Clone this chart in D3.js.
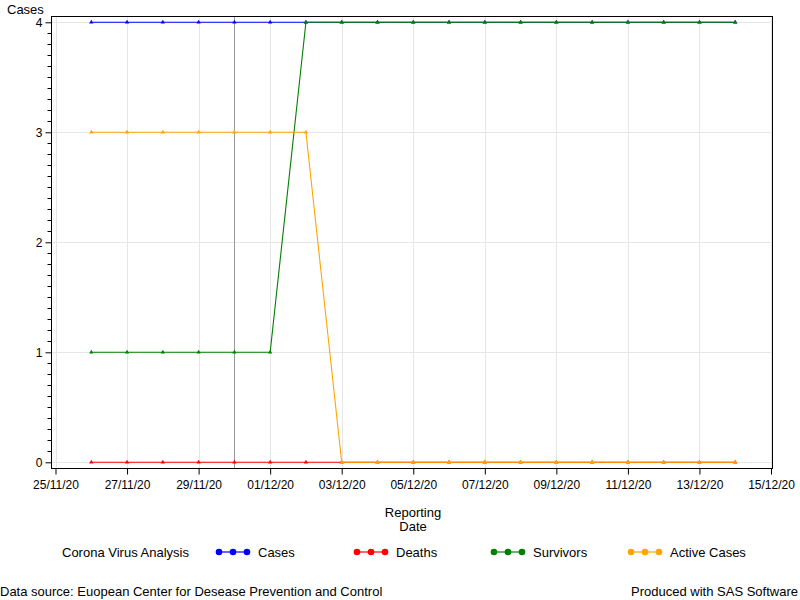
<!DOCTYPE html>
<html>
<head>
<meta charset="utf-8">
<script src="https://cdn.jsdelivr.net/npm/d3@7"></script>
<style>
  body { margin: 0; background: #fff; }
  svg { display: block; font-family: "Liberation Sans", Arial, sans-serif; }
</style>
</head>
<body>
<svg id="chart" width="800" height="600"></svg>
<script>
// ---- data ----
const dates = ["2020-11-26","2020-11-27","2020-11-28","2020-11-29","2020-11-30","2020-12-01","2020-12-02",
  "2020-12-03","2020-12-04","2020-12-05","2020-12-06","2020-12-07","2020-12-08","2020-12-09","2020-12-10",
  "2020-12-11","2020-12-12","2020-12-13","2020-12-14"];
const cases     = [4,4,4,4,4,4,4,4,4,4,4,4,4,4,4,4,4,4,4];
const deaths    = [0,0,0,0,0,0,0,0,0,0,0,0,0,0,0,0,0,0,0];
const survivors = [1,1,1,1,1,1,4,4,4,4,4,4,4,4,4,4,4,4,4];
const active    = [3,3,3,3,3,3,3,0,0,0,0,0,0,0,0,0,0,0,0];
const seriesNames  = ["Cases","Deaths","Survivors","Active Cases"];
const seriesColors = ["#0000ff","#ff0000","#008000","#ffa500"];
const xTickDates = ["2020-11-25","2020-11-27","2020-11-29","2020-12-01","2020-12-03","2020-12-05",
  "2020-12-07","2020-12-09","2020-12-11","2020-12-13","2020-12-15"];
const yTicks = [0,1,2,3,4];
const refDate = "2020-11-30";
const legendTitle = "Corona Virus Analysis";
const footLeft = "Data source: Euopean Center for Desease Prevention and Control";
const footRight = "Produced with SAS Software";

// ---- layout ----
const parse = d3.utcParse("%Y-%m-%d");
const fmt = d3.utcFormat("%d/%m/%y");
const svg = d3.select("#chart");
const frame = {left: 51.5, right: 772.5, top: 16.5, bottom: 468.5};

const x = d3.scaleUtc().domain([parse("2020-11-25"), parse("2020-12-15")]).range([55.5, 771]);
const y = d3.scaleLinear().domain([0, 4]).range([462.3, 22.3]);

// gridlines
const grid = svg.append("g");
grid.selectAll("line.gx").data(xTickDates.map(parse)).join("line")
  .attr("x1", d => Math.round(x(d)) + 0.5).attr("x2", d => Math.round(x(d)) + 0.5)
  .attr("y1", frame.top).attr("y2", frame.bottom)
  .attr("stroke", "#e6e6e6").attr("stroke-width", 1);
grid.selectAll("line.gy").data(yTicks).join("line")
  .attr("y1", d => Math.round(y(d)) + 0.5).attr("y2", d => Math.round(y(d)) + 0.5)
  .attr("x1", frame.left).attr("x2", frame.right)
  .attr("stroke", "#e6e6e6").attr("stroke-width", 1);

// reference line
svg.append("line")
  .attr("x1", Math.round(x(parse(refDate))) + 0.5).attr("x2", Math.round(x(parse(refDate))) + 0.5)
  .attr("y1", frame.top).attr("y2", frame.bottom)
  .attr("stroke", "#999999").attr("stroke-width", 1);

// series
const allSeries = [cases, deaths, survivors, active];
const line = d3.line().x((d, i) => x(parse(dates[i]))).y(d => y(d));
allSeries.forEach((vals, si) => {
  const g = svg.append("g");
  g.append("path").datum(vals).attr("d", line)
    .attr("fill", "none").attr("stroke", seriesColors[si]).attr("stroke-width", 1.1);
  g.selectAll("path.m").data(vals).join("path")
    .attr("d", d3.symbol(d3.symbolTriangle, 8))
    .attr("transform", (d, i) => `translate(${x(parse(dates[i]))},${y(d)})`)
    .attr("fill", seriesColors[si]);
});

// frame
svg.append("rect").attr("x", frame.left).attr("y", frame.top)
  .attr("width", frame.right - frame.left).attr("height", frame.bottom - frame.top)
  .attr("fill", "none").attr("stroke", "#000").attr("stroke-width", 1);

// x axis
const xAxis = d3.axisBottom(x).tickValues(xTickDates.map(parse)).tickFormat(fmt).tickSize(6).tickPadding(6);
const gx = svg.append("g").attr("transform", `translate(0,${frame.bottom})`).call(xAxis);
gx.select(".domain").remove();
gx.selectAll("text").attr("font-size", 12).attr("fill", "#000").attr("font-family", "Liberation Sans, Arial, sans-serif");

// y axis major
const yAxis = d3.axisLeft(y).tickValues(yTicks).tickFormat(d3.format("d")).tickSize(6).tickPadding(3);
const gy = svg.append("g").attr("transform", `translate(${frame.left},0)`).call(yAxis);
gy.select(".domain").remove();
gy.selectAll("text").attr("font-size", 12).attr("fill", "#000").attr("font-family", "Liberation Sans, Arial, sans-serif");
// y minor ticks
const minor = d3.range(0, 40).filter(i => i % 10 !== 0).map(i => i / 10);
svg.append("g").selectAll("line").data(minor).join("line")
  .attr("x1", frame.left - 4).attr("x2", frame.left)
  .attr("y1", d => Math.round(y(d)) + 0.5).attr("y2", d => Math.round(y(d)) + 0.5)
  .attr("stroke", "#000");

// axis labels
const txt = (t, xx, yy, anchor) => svg.append("text").text(t).attr("x", xx).attr("y", yy)
  .attr("font-size", 13).attr("text-anchor", anchor || "start").attr("fill", "#000");
txt("Cases", 7, 14);
txt("Reporting", 413, 517, "middle");
txt("Date", 413, 531, "middle");

// legend
txt(legendTitle, 62, 557);
const legendX = [217, 355, 492, 629];
seriesNames.forEach((name, i) => {
  const lx = legendX[i];
  svg.append("line").attr("x1", lx).attr("x2", lx + 32).attr("y1", 552).attr("y2", 552)
    .attr("stroke", seriesColors[i]).attr("stroke-width", 1.2);
  [2, 16, 30].forEach(o => svg.append("circle").attr("cx", lx + o).attr("cy", 552).attr("r", 3.3)
    .attr("fill", seriesColors[i]));
  txt(name, lx + 41, 557);
});

// footnotes
txt(footLeft, 0, 596);
txt(footRight, 798, 596, "end");
</script>
</body>
</html>
